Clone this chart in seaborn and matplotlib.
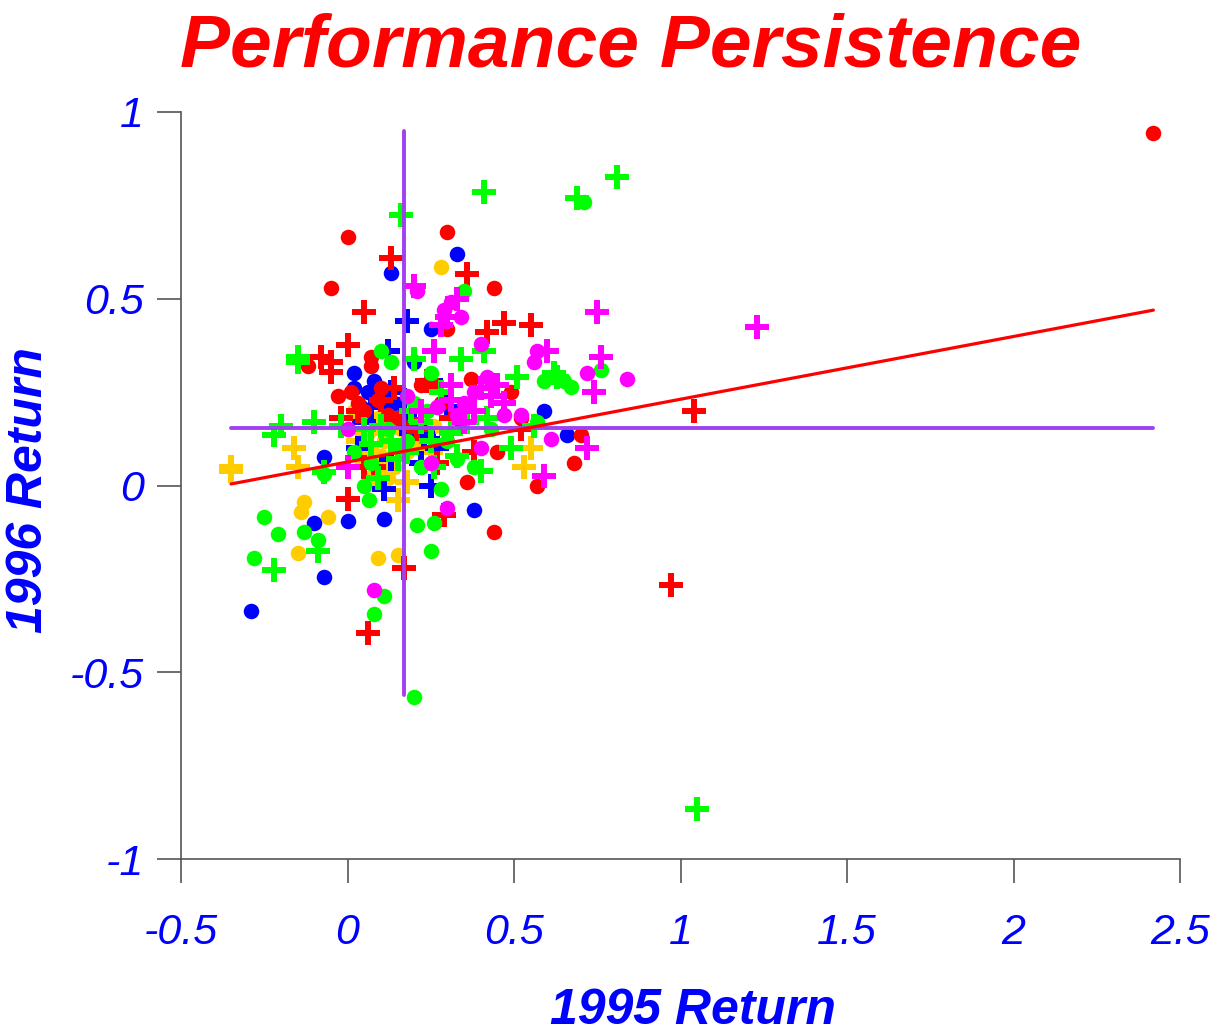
import matplotlib
matplotlib.use("Agg")
import matplotlib.pyplot as plt
import pandas as pd
import seaborn as sns

# fund returns (1995 return, 1996 return)
red_dot_x = [2.42, 0.00, 0.30, -0.05, 0.44, 0.70, 0.68, 0.57, 0.44, 0.36, 0.37, 0.52, 0.49,
             0.07, 0.07, 0.01, 0.03, 0.10, 0.12, 0.15, 0.30, 0.28, 0.45, 0.25, 0.34, -0.12, -0.03,
             0.05, 0.09, 0.19, 0.22]
red_dot_y = [0.945, 0.665, 0.68, 0.53, 0.53, 0.135, 0.06, 0.00, -0.125, 0.01, 0.285, 0.18, 0.25,
             0.345, 0.32, 0.25, 0.22, 0.26, 0.19, 0.18, 0.42, 0.22, 0.09, 0.27, 0.17, 0.32, 0.24,
             0.20, 0.23, 0.16, 0.27]
red_plus_x = [1.04, 0.97, 0.36, 0.13, 0.05, 0.00, -0.05, -0.08, -0.05, 0.42, 0.47, 0.55, 0.17,
              0.06, 0.29, 0.00, 0.05, 0.08, 0.38, 0.52, 0.24, 0.31, 0.21, 0.10, 0.03, -0.02,
              0.14, 0.27]
red_plus_y = [0.20, -0.265, 0.565, 0.61, 0.465, 0.375, 0.33, 0.345, 0.305, 0.41, 0.435, 0.43, -0.22,
              -0.395, -0.08, -0.035, 0.05, 0.05, 0.09, 0.15, 0.28, 0.18, 0.15, 0.23, 0.20, 0.18,
              0.26, 0.06]

green_dot_x = [0.71, 0.76, 0.67, 0.65, 0.59, 0.35, 0.20, 0.08, 0.11, -0.25, -0.28, -0.21, -0.13,
               -0.09, 0.25, 0.21, 0.26, -0.07, 0.065, 0.05, 0.02, 0.13, 0.20, 0.38, 0.57, 0.43,
               0.28, 0.33, 0.25, 0.15, 0.22, 0.30, 0.10, 0.12, 0.18, 0.24, 0.07]
green_dot_y = [0.76, 0.31, 0.265, 0.28, 0.28, 0.52, -0.565, -0.345, -0.295, -0.085, -0.195, -0.13, -0.125,
               -0.145, -0.175, -0.105, -0.10, 0.03, -0.04, 0.00, 0.09, 0.33, 0.22, 0.05, 0.17, 0.15,
               -0.01, 0.07, 0.30, 0.10, 0.05, 0.12, 0.36, 0.15, 0.12, 0.20, 0.06]
green_plus_x = [1.05, 0.81, 0.69, 0.41, 0.16, -0.15, -0.15, -0.10, -0.20, -0.22, -0.22, -0.09, -0.07,
                0.41, 0.34, 0.20, 0.62, 0.63, 0.51, 0.56, 0.49, 0.40, 0.33, 0.26, 0.22, 0.19, 0.10,
                0.05, 0.13, 0.28, 0.36, 0.15, 0.09, 0.25, 0.42, -0.02, 0.18, 0.31, 0.07]
green_plus_y = [-0.865, 0.825, 0.77, 0.785, 0.725, 0.345, 0.33, 0.17, 0.16, 0.135, -0.225, -0.175, 0.035,
                0.36, 0.34, 0.34, 0.30, 0.29, 0.29, 0.16, 0.10, 0.04, 0.08, 0.05, 0.17, 0.20, 0.16,
                0.15, 0.12, 0.25, 0.17, 0.07, 0.02, 0.12, 0.18, 0.16, 0.09, 0.14, 0.11]

blue_dot_x = [-0.29, -0.07, -0.10, -0.07, 0.00, 0.11, 0.33, 0.13, 0.25, 0.38, 0.59, 0.66, 0.02, 0.02,
              0.06, 0.08, 0.10, 0.04, 0.17, 0.20, 0.24, 0.14, 0.12]
blue_dot_y = [-0.335, -0.245, -0.10, 0.075, -0.095, -0.09, 0.62, 0.57, 0.42, -0.065, 0.20, 0.135, 0.30, 0.26,
              0.25, 0.28, 0.22, 0.21, 0.19, 0.33, 0.14, 0.22, 0.24]
blue_plus_x = [0.18, 0.12, 0.25, 0.30, 0.07, 0.13, 0.17, 0.20, 0.03, 0.11, 0.25, 0.19, 0.13, 0.27,
               0.22, 0.05, 0.16, 0.23]
blue_plus_y = [0.44, 0.36, 0.28, 0.21, 0.21, 0.25, 0.23, 0.20, 0.10, -0.01, 0.00, 0.14, 0.07, 0.10,
               0.06, 0.17, 0.18, 0.13]

pink_dot_x = [0.84, 0.72, 0.61, 0.57, 0.56, 0.40, 0.29, 0.31, 0.34, 0.08, 0.30, 0.21, 0.40, 0.47,
              0.38, 0.35, 0.42, 0.25, 0.00, 0.18, 0.52, 0.33, 0.27]
pink_dot_y = [0.285, 0.30, 0.125, 0.36, 0.33, 0.38, 0.47, 0.49, 0.45, -0.28, -0.06, 0.52, 0.10, 0.19,
              0.25, 0.22, 0.29, 0.06, 0.15, 0.24, 0.19, 0.19, 0.21]
pink_plus_x = [1.23, 0.75, 0.76, 0.74, 0.72, 0.59, 0.60, 0.20, 0.26, 0.30, 0.33, 0.28, 0.45, 0.43,
               0.38, 0.35, 0.47, 0.22, 0.31, 0.00, 0.31, 0.40]
pink_plus_y = [0.425, 0.465, 0.345, 0.25, 0.10, 0.025, 0.36, 0.535, 0.36, 0.45, 0.50, 0.43, 0.27, 0.24,
               0.20, 0.17, 0.22, 0.20, 0.23, 0.05, 0.27, 0.26]

gold_dot_x = [0.28, -0.14, -0.13, -0.06, -0.15, 0.09, 0.15, 0.00, 0.05, 0.07, 0.02, 0.10, 0.14,
              0.18, 0.12, 0.09, 0.04, 0.16, 0.21, 0.26, 0.06, 0.11]
gold_dot_y = [0.585, -0.07, -0.045, -0.085, -0.18, -0.195, -0.185, 0.15, 0.12, 0.10, 0.20, 0.08, 0.05,
              0.09, 0.02, 0.18, 0.07, 0.15, 0.11, 0.16, 0.14, 0.12]
gold_plus_x = [-0.35, -0.35, -0.16, -0.15, 0.53, 0.55, 0.15, 0.05, 0.10, 0.13, 0.17, 0.12, 0.08,
               0.20, 0.03, 0.15, 0.25, 0.18, 0.07]
gold_plus_y = [0.05, 0.04, 0.10, 0.05, 0.05, 0.10, -0.04, 0.17, 0.14, 0.19, 0.22, 0.04, 0.03,
               0.12, 0.12, 0.17, 0.09, 0.01, 0.09]

# summary lines
mean_1995 = 0.17
mean_1996 = 0.155
vline_span = [-0.56, 0.95]
fit_intercept = 0.063
fit_slope = 0.168

colors = {"red": "#FF0000", "green": "#00FF00", "blue": "#0000FF",
          "magenta": "#FF00FF", "gold": "#FFCC00"}
purple = "#A040F0"
blue_txt = "#0000FF"


def make_df(x, y, fund):
    return pd.DataFrame({"r1995": x, "r1996": y, "fund": fund})


groups = [
    ("gold", gold_dot_x, gold_dot_y, gold_plus_x, gold_plus_y),
    ("blue", blue_dot_x, blue_dot_y, blue_plus_x, blue_plus_y),
    ("red", red_dot_x, red_dot_y, red_plus_x, red_plus_y),
    ("green", green_dot_x, green_dot_y, green_plus_x, green_plus_y),
    ("magenta", pink_dot_x, pink_dot_y, pink_plus_x, pink_plus_y),
]

sns.set_style("ticks")
plt.rcParams["font.family"] = ["Liberation Sans", "DejaVu Sans"]

fig = plt.figure(figsize=(12.25, 10.34), dpi=100)
ax = fig.add_axes([0.1478, 0.1692, 0.8155, 0.7225])

for name, dx, dy, px, py in groups:
    sns.scatterplot(data=make_df(dx, dy, name), x="r1995", y="r1996", ax=ax,
                    color=colors[name], marker="o", s=125, linewidth=0, legend=False, zorder=3)
    sns.scatterplot(data=make_df(px, py, name), x="r1995", y="r1996", ax=ax,
                    color=colors[name], marker="+", s=290, linewidth=4.3, legend=False, zorder=3)

all_x = sum([g[1] + g[3] for g in groups], [])
xmin, xmax = min(all_x), max(all_x)

ax.plot([mean_1995, mean_1995], vline_span, color=purple, lw=2.8, zorder=4)
ax.plot([xmin, xmax], [mean_1996, mean_1996], color=purple, lw=2.8, zorder=4)
ax.plot([xmin, xmax], [fit_intercept + fit_slope * xmin, fit_intercept + fit_slope * xmax],
        color="#FF0000", lw=2.3, zorder=5)

ax.set_xlim(-0.5, 2.5)
ax.set_ylim(-1, 1)
ax.set_xticks([-0.5, 0, 0.5, 1, 1.5, 2, 2.5])
ax.set_yticks([-1, -0.5, 0, 0.5, 1])
ax.set_xticklabels(["-0.5", "0", "0.5", "1", "1.5", "2", "2.5"])
ax.set_yticklabels(["-1", "-0.5", "0", "0.5", "1"])
sns.despine(ax=ax)
for side in ["left", "bottom"]:
    ax.spines[side].set_color("#555555")
    ax.spines[side].set_linewidth(1.2)
ax.tick_params(axis="both", length=17, width=1.2, color="#555555", labelsize=31,
               labelcolor=blue_txt)
ax.tick_params(axis="x", pad=22)
ax.tick_params(axis="y", pad=10)
for lab in ax.get_xticklabels() + ax.get_yticklabels():
    lab.set_fontstyle("italic")

ax.set_xlabel("1995 Return", fontsize=36, fontweight="bold", fontstyle="italic",
              color=blue_txt)
ax.set_ylabel("1996 Return", fontsize=36, fontweight="bold", fontstyle="italic",
              color=blue_txt)
ax.xaxis.set_label_coords(0.5125, -0.172)
ax.yaxis.set_label_coords(-0.129, 0.494)
fig.text(0.515, 0.955, "Performance Persistence", ha="center", va="center",
         fontsize=54, fontweight="bold", fontstyle="italic", color="#FF0000")

plt.savefig("out.png", dpi=100)
plt.close()
